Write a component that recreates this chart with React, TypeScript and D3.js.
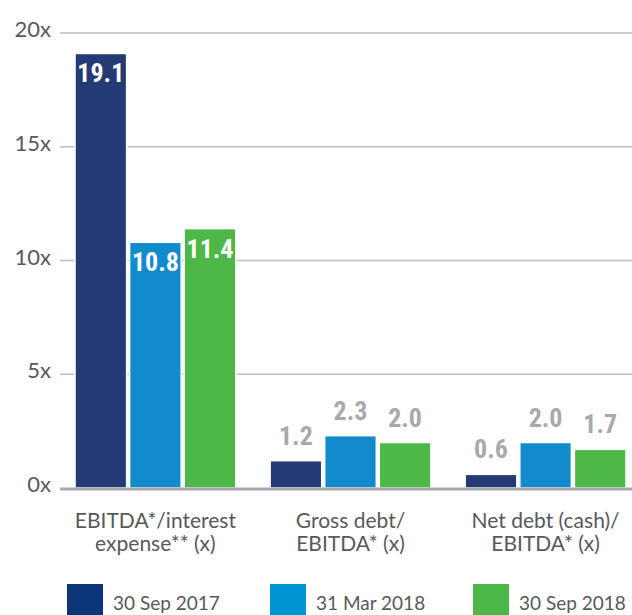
import React from "react";
import * as d3 from "d3";

const categories = ["EBITDA*/interest\nexpense** (x)", "Gross debt/\nEBITDA* (x)", "Net debt (cash)/\nEBITDA* (x)"];
const seriesNames = ["30 Sep 2017", "31 Mar 2018", "30 Sep 2018"];
const values = [
  [19.1, 1.2, 0.6],
  [10.8, 2.3, 2.0],
  [11.4, 2.0, 1.7],
];
const barColors = ["#233a75", "#118bcb", "#4db848"];
const legendColors = ["#0d3678", "#0094d4", "#4cb848"];
const yTicks = [0, 5, 10, 15, 20];

const width = 632;
const height = 615;

const App = () => {
  const y = d3.scaleLinear().domain([0, 20]).range([488, 33]);
  const x0 = d3.scaleBand<number>()
    .domain(d3.range(categories.length))
    .range([60, 641])
    .paddingInner(0.176)
    .paddingOuter(0.077);
  const x1 = d3.scaleBand<number>()
    .domain(d3.range(seriesNames.length))
    .range([0, x0.bandwidth()])
    .paddingInner(0.055);

  const fontLight = "Lato, 'Open Sans', sans-serif";
  const fontBold = "'Liberation Sans Narrow', 'Roboto Condensed', Lato, sans-serif";

  return (
    <svg width={width} height={height} style={{ position: "absolute", left: 0, top: 0 }}>
      <rect width={width} height={height} fill="#fff" />
      {yTicks.filter(t => t > 0).map(t => (
        <line key={t} x1={60} x2={width} y1={y(t)} y2={y(t)} stroke="#bcbec0" strokeWidth={1.5} />
      ))}
      {yTicks.map(t => (
        <text key={t} x={51} y={y(t) + 4} textAnchor="end" fontFamily={fontLight} fontSize={22} fill="#58595b">
          {t}x
        </text>
      ))}
      {categories.map((c, ci) => (
        <g key={ci} transform={`translate(${x0(ci)},0)`}>
          {seriesNames.map((s, si) => {
            const v = values[si][ci];
            const bx = x1(si)!;
            const bw = x1.bandwidth();
            const top = y(v);
            const inside = v > 5;
            return (
              <g key={si}>
                <rect x={bx} y={top} width={bw} height={y(0) - top} fill={barColors[si]} stroke="#fff" strokeWidth={1.5} />
                <text
                  x={bx + bw / 2}
                  y={inside ? top + 29 : top - 16}
                  textAnchor="middle"
                  fontFamily={fontBold}
                  fontWeight="bold"
                  fontSize={26}
                  fill={inside ? "#fff" : "#a7a9ac"}
                >
                  {v.toFixed(1)}
                </text>
              </g>
            );
          })}
          {c.split("\n").map((line, li) => (
            <text key={li} x={x0.bandwidth() / 2} y={528 + li * 23} textAnchor="middle" fontFamily={fontLight} fontSize={21} fill="#58595b">
              {line}
            </text>
          ))}
        </g>
      ))}
      <line x1={60} x2={width} y1={y(0) + 1} y2={y(0) + 1} stroke="#a7a9ac" strokeWidth={3} />
      {seriesNames.map((s, si) => (
        <g key={s} transform={`translate(${67 + si * 203},584)`}>
          <rect width={36} height={36} fill={legendColors[si]} />
          <text x={46} y={26} fontFamily={fontLight} fontSize={19} fill="#58595b">{s}</text>
        </g>
      ))}
    </svg>
  );
};

export default App;
